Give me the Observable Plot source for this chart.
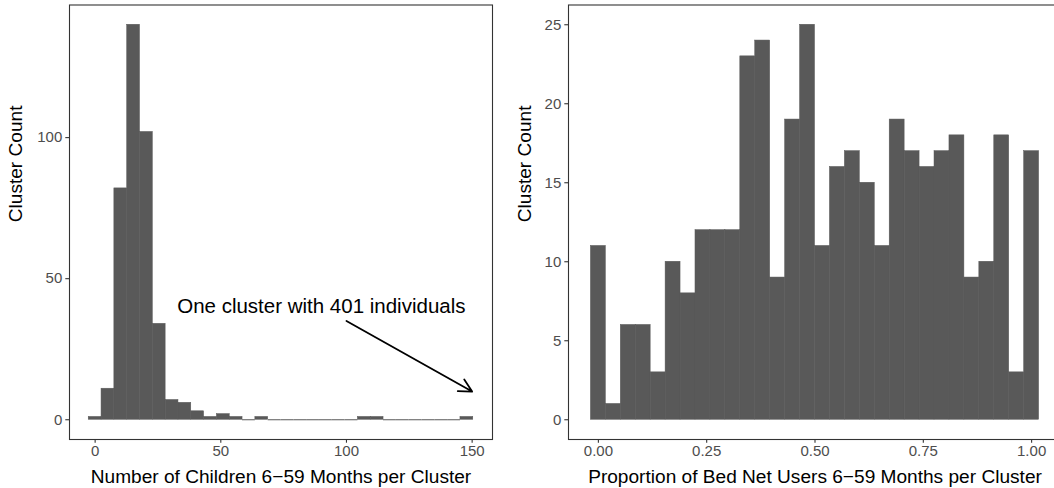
<!DOCTYPE html>
<html>
<head>
<meta charset="utf-8">
<script src="https://cdn.jsdelivr.net/npm/d3@7"></script>
<script src="https://cdn.jsdelivr.net/npm/@observablehq/plot@0.6"></script>
<style>
  html, body { margin: 0; padding: 0; background: #fff; overflow: hidden; }
  #wrap { display: flex; flex-direction: row; width: 1054px; height: 488px; overflow: hidden; }
  #wrap > * { flex: none; }
</style>
</head>
<body>
<div id="wrap"></div>
<script>
// ---- Left histogram: children 6-59 months per cluster ----
const leftBinWidth = 5.1;      // bins centred on multiples of the width
const leftCounts = [1, 11, 82, 140, 102, 34, 7, 6, 3, 1, 2, 1, 0, 1, 0, 0, 0, 0, 0, 0, 0, 1, 1, 0, 0, 0, 0, 0, 0, 1];
const leftXTicks = [0, 50, 100, 150];
const leftYTicks = [0, 50, 100];
const leftXLabel = "Number of Children 6\u221259 Months per Cluster";
const annotationText = "One cluster with 401 individuals";
const annotationPos = {x: 90, y: 40};
const arrowFrom = {x: 100, y: 35};
const arrowTo = {x: 150, y: 10};

// ---- Right histogram: proportion of bed net users ----
const rightBinWidth = 1 / 29;
const rightCounts = [11, 1, 6, 6, 3, 10, 8, 12, 12, 12, 23, 24, 9, 19, 25, 11, 16, 17, 15, 11, 19, 17, 16, 17, 18, 9, 10, 18, 3, 17];
const rightXTicks = [0, 0.25, 0.5, 0.75, 1];
const rightYTicks = [0, 5, 10, 15, 20, 25];
const rightXLabel = "Proportion of Bed Net Users 6\u221259 Months per Cluster";
const yLabel = "Cluster Count";

const toBins = (counts, w) => counts.map((c, i) => ({x1: i * w - w / 2, x2: i * w + w / 2, count: c}));
const leftBins = toBins(leftCounts, leftBinWidth);
const rightBins = toBins(rightCounts, rightBinWidth);

function expand(lo, hi, f = 0.05) { const d = (hi - lo) * f; return [lo - d, hi + d]; }

const font = "'Liberation Sans', Arial, Helvetica, sans-serif";
const barFill = "#595959";
const tickFont = 15;
const titleFont = 19.1;

function histogram({bins, width, marginLeft, marginRight, xTicks, yTicks, xLabel, xFormat, yTitleDx, extra = []}) {
  const xd = expand(d3.min(bins, d => d.x1), d3.max(bins, d => d.x2));
  const yd = expand(0, d3.max(bins, d => d.count));
  return Plot.plot({
    width, height: 488,
    marginLeft, marginRight, marginTop: 4.5, marginBottom: 49,
    style: {fontFamily: font, fontSize: tickFont + "px", color: "#4d4d4d", background: "#fff", overflow: "visible"},
    x: {domain: xd, label: null},
    y: {domain: yd, label: null},
    marks: [
      Plot.rectY(bins.filter(d => d.count > 0), {x1: "x1", x2: "x2", y: "count", fill: barFill, stroke: barFill, strokeWidth: 0.5}),
      Plot.ruleY(bins.filter(d => d.count === 0), {x1: "x1", x2: "x2", y: "count", stroke: barFill, strokeWidth: 1}),
      Plot.axisX({ticks: xTicks, tickFormat: xFormat, tickSize: 3.7, tickPadding: 2, stroke: "#333", strokeWidth: 1.1, fill: "#4d4d4d", fontSize: tickFont, label: null}),
      Plot.axisY({ticks: yTicks, tickSize: 3.7, tickPadding: 3.5, stroke: "#333", strokeWidth: 1.1, fill: "#4d4d4d", fontSize: tickFont, label: null}),
      Plot.text([xLabel], {frameAnchor: "bottom", dy: 37, fontSize: titleFont, fill: "black", lineAnchor: "middle"}),
      Plot.text([yLabel], {frameAnchor: "left", dx: yTitleDx, rotate: -90, fontSize: titleFont, fill: "black", lineAnchor: "top"}),
      ...extra,
      Plot.frame({stroke: "#333", strokeWidth: 1.1})
    ]
  });
}

const left = histogram({
  bins: leftBins, width: 527, marginLeft: 69, marginRight: 35,
  xTicks: leftXTicks, yTicks: leftYTicks, xLabel: leftXLabel, xFormat: d3.format("d"), yTitleDx: -61,
  extra: [
    Plot.text([annotationText], {x: () => annotationPos.x, y: () => annotationPos.y, fontSize: 20.5, fill: "black"}),
    Plot.arrow([0], {x1: () => arrowFrom.x, y1: () => arrowFrom.y, x2: () => arrowTo.x, y2: () => arrowTo.y,
      stroke: "black", strokeWidth: 1.8, headLength: 12, headAngle: 55, bend: 0})
  ]
});

const right = histogram({
  bins: rightBins, width: 541, marginLeft: 41, marginRight: 7,
  xTicks: rightXTicks, yTicks: rightYTicks, xLabel: rightXLabel, xFormat: d3.format(".2f"), yTitleDx: -51
});

document.getElementById("wrap").append(left, right);
</script>
</body>
</html>
